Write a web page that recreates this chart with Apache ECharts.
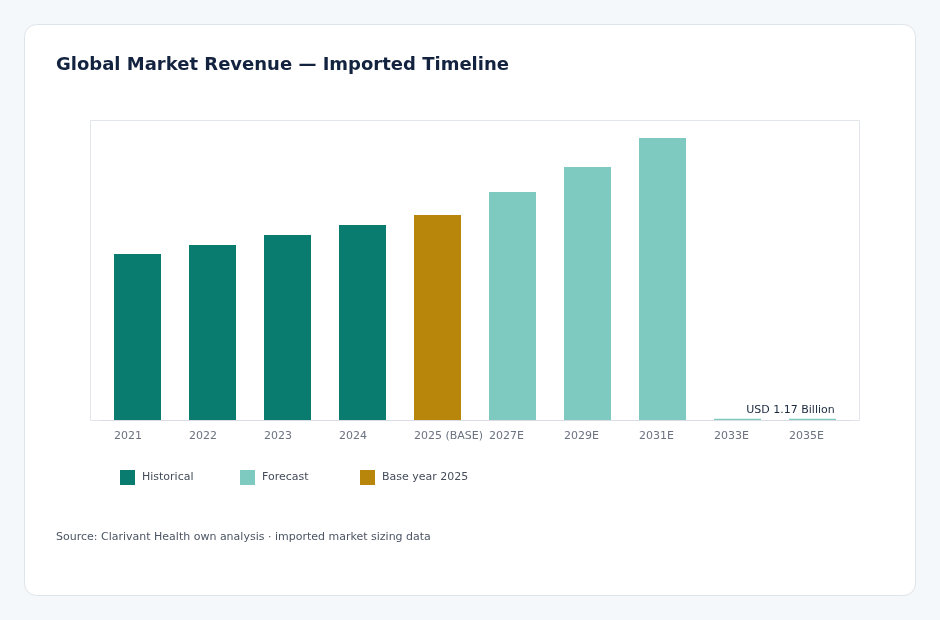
<!DOCTYPE html>
<html>
<head>
<meta charset="utf-8">
<script src="https://cdn.jsdelivr.net/npm/echarts@6/dist/echarts.min.js"></script>
<style>
  html, body { margin: 0; padding: 0; background: #f5f8fb; }
  #chart { width: 940px; height: 620px; }
</style>
</head>
<body>
<div id="chart"></div>
<script>
const FONT = "DejaVu Sans, sans-serif";

const years = ["2021", "2022", "2023", "2024", "2025 (BASE)", "2027E", "2029E", "2031E", "2033E", "2035E"];
const historical = [166, 175, 185, 195, null, null, null, null, null, null];
const baseYear = [null, null, null, null, 205, null, null, null, null, null];
const forecast = [null, null, null, null, null, 228, 253, 282, 1.17, 1.17];
const legendNames = ["Historical", "Forecast", "Base year 2025"];
const lastLabel = "USD 1.17 Billion";

const C_HIST = "#0a7b6f";
const C_FORE = "#7ecac1";
const C_BASE = "#b8860b";

const chart = echarts.init(document.getElementById("chart"), null, { renderer: "canvas" });

// one legend per item so they sit on a fixed 120px pitch
const legends = legendNames.map((name, i) => ({
  left: 120 + i * 120, top: 470, padding: 0,
  itemWidth: 15, itemHeight: 15,
  icon: "rect",
  data: [name],
  textStyle: { fontFamily: FONT, fontSize: 11, color: "#444c5a", padding: [0, 0, 0, 2] }
}));

chart.setOption({
  backgroundColor: "#f5f8fb",
  animation: false,
  textStyle: { fontFamily: FONT },
  graphic: [
    {
      type: "rect", z: -10,
      shape: { x: 24.5, y: 24.5, width: 891, height: 571, r: 12 },
      style: { fill: "#ffffff", stroke: "#dfe4ea", lineWidth: 1 }
    },
    {
      type: "rect", z: -5,
      shape: { x: 90.5, y: 120.5, width: 769, height: 300 },
      style: { fill: "none", stroke: "#e2e5ea", lineWidth: 1 }
    },
    {
      type: "text", left: 56, top: 532,
      style: {
        text: "Source: Clarivant Health own analysis · imported market sizing data",
        fill: "#4b5563", font: "11px " + FONT
      }
    }
  ],
  title: {
    text: "Global Market Revenue — Imported Timeline",
    left: 56, top: 56, padding: 0,
    textStyle: { fontFamily: FONT, fontSize: 18, fontWeight: "bold", color: "#13233f" }
  },
  legend: legends,
  grid: { left: 100, right: 90, top: 120, bottom: 200 },
  xAxis: {
    type: "category",
    data: years,
    axisLine: { lineStyle: { color: "#d9dde3" } },
    axisTick: { show: false },
    axisLabel: {
      interval: 0,
      margin: 11,
      formatter: (v) => "{a|" + v + "}",
      rich: { a: { width: 47, align: "left", fontFamily: FONT, fontSize: 11, color: "#6b7280" } }
    }
  },
  yAxis: { type: "value", min: 0, max: 300, show: false },
  series: [
    {
      name: "Historical", type: "bar", stack: "t", barWidth: 47,
      data: historical, itemStyle: { color: C_HIST }
    },
    {
      name: "Forecast", type: "bar", stack: "t", barWidth: 47,
      data: forecast.map((v, i) => i === forecast.length - 1 ? {
        value: v,
        label: {
          show: true, position: "top", offset: [-22, 0], distance: 3,
          formatter: lastLabel, fontFamily: FONT, fontSize: 11, color: "#1c2a3f"
        }
      } : v),
      itemStyle: { color: C_FORE }
    },
    {
      name: "Base year 2025", type: "bar", stack: "t", barWidth: 47,
      data: baseYear, itemStyle: { color: C_BASE }
    }
  ]
});
</script>
</body>
</html>
